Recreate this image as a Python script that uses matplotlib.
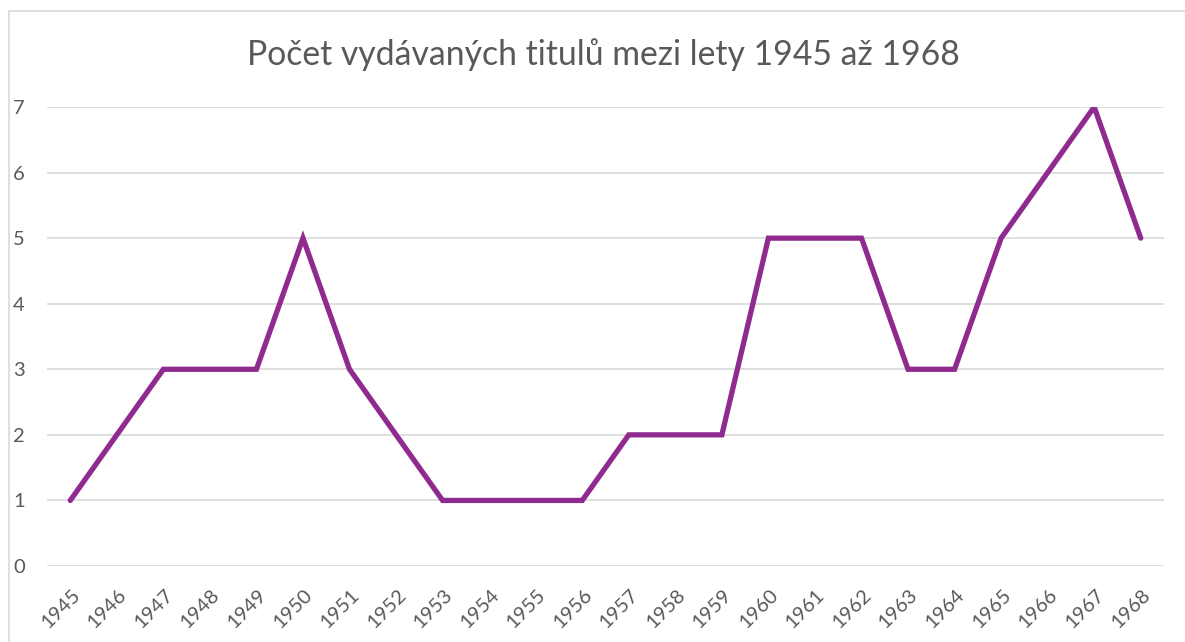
import matplotlib
matplotlib.use("Agg")
from matplotlib import pyplot as plt
import matplotlib.patches as mpatches
import matplotlib.transforms as mtransforms

years = [str(y) for y in range(1945, 1969)]
titles = [1, 2, 3, 3, 3, 5, 3, 2, 1, 1, 1, 1, 2, 2, 2, 5, 5, 5, 3, 3, 5, 6, 7, 5]
yticks = [0, 1, 2, 3, 4, 5, 6, 7]

plt.rcParams['font.family'] = ['Lato', 'DejaVu Sans']

fig = plt.figure(figsize=(11.85, 6.42), dpi=100)
ax = fig.add_axes([47 / 1185, 1 - 566 / 642, (1164 - 47) / 1185, (566 - 107) / 642])

# outer chart border (only top and left visible in the crop)
fig.patches.append(mpatches.Rectangle((9 / 1185, -0.1), 1.2, 1 - 11 / 642 + 0.1,
                                      transform=fig.transFigure, fill=False,
                                      edgecolor='#d9d9d9', linewidth=1.2))

x = list(range(len(years)))
ax.plot(x, titles, color='#8f2a8f', linewidth=3.8, solid_joinstyle='miter', solid_capstyle='round', zorder=3)

ax.set_xlim(-0.5, len(years) - 0.5)
ax.set_ylim(0, 7)
ax.set_yticks(yticks)
ax.set_xticks(x)
ax.set_xticklabels(years, rotation=45, ha='right', va='center', rotation_mode='anchor')
ax.grid(axis='y', color='#d9d9d9', linewidth=1.2)
ax.set_axisbelow(True)
for s in ax.spines.values():
    s.set_visible(False)
ax.tick_params(axis='both', length=0, colors='#595959', labelsize=14.5)
ax.tick_params(axis='y', pad=16)
ax.tick_params(axis='x', pad=19)
shift = mtransforms.ScaledTranslation(7 / 100, 0, fig.dpi_scale_trans)
for lbl in ax.get_xticklabels():
    lbl.set_transform(lbl.get_transform() + shift)

fig.text(603 / 1185, 1 - 55 / 642, "Počet vydávaných titulů mezi lety 1945 až 1968",
         ha='center', va='center', fontsize=24.3, color='#595959')

fig.savefig("out.png", dpi=100)
